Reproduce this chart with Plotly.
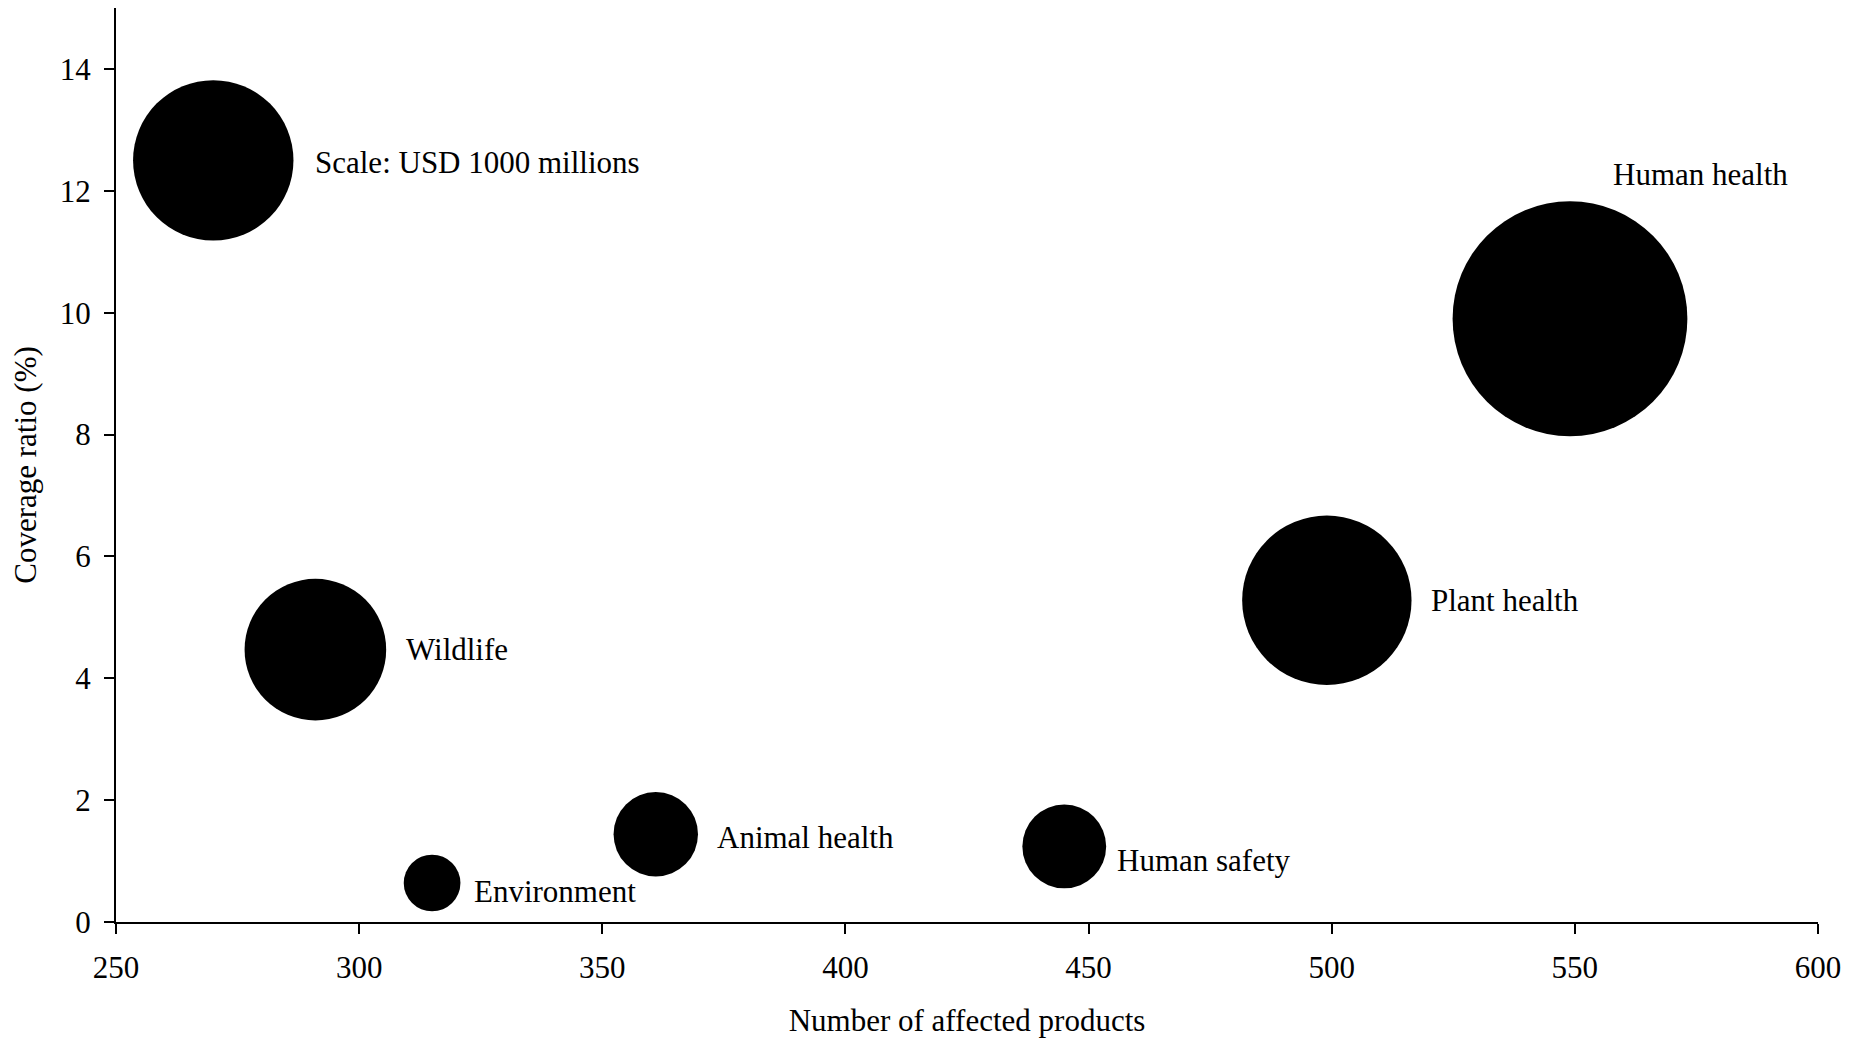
import plotly.graph_objects as go

# ---- data ----
categories = ["Scale: USD 1000 millions", "Human health", "Plant health",
              "Wildlife", "Animal health", "Human safety", "Environment"]
affected_products = [270, 549, 499, 291, 361, 445, 315]
coverage_ratio = [12.5, 9.9, 5.28, 4.47, 1.44, 1.24, 0.64]
trade_value = [1000, 2143, 1115, 779, 277, 273, 125]   # USD millions (bubble area)

x_ticks = [250, 300, 350, 400, 450, 500, 550, 600]
y_ticks = [0, 2, 4, 6, 8, 10, 12, 14]

# ---- style ----
FONT = "Liberation Serif, Times New Roman, serif"
FS = 31
ref_diameter = 160.4                       # pixel diameter of the 1000-million bubble
sizeref = 2.0 * trade_value[0] / ref_diameter ** 2
# label placement: (gap from bubble edge in px, vertical shift in px)
label_gap = [20, None, 17, 18, 17, 9, 12]
label_dy = [-2, 0, 0, 0, -3, -14, -8]
human_health_shift = (41, 144)

fig = go.Figure()
fig.add_trace(go.Scatter(
    x=affected_products, y=coverage_ratio, mode="markers",
    marker=dict(size=trade_value, sizemode="area", sizeref=sizeref,
                color="black", line=dict(width=0), opacity=1),
    text=categories, hoverinfo="text", showlegend=False,
))

for i, name in enumerate(categories):
    if label_gap[i] is None:
        xs, ys = human_health_shift
    else:
        r = (2.0 * trade_value[i] / sizeref) ** 0.5 / 2
        xs, ys = r + label_gap[i], label_dy[i]
    fig.add_annotation(x=affected_products[i], y=coverage_ratio[i], text=name,
                       showarrow=False, xanchor="left", yanchor="middle",
                       xshift=xs, yshift=ys,
                       font=dict(family=FONT, size=FS, color="black"))

axis_common = dict(showline=True, linecolor="black", linewidth=2,
                   ticks="outside", ticklen=10, tickwidth=2, tickcolor="black",
                   showgrid=False, zeroline=False,
                   tickfont=dict(family=FONT, size=FS, color="black"))

fig.update_xaxes(range=[250, 600], tickvals=x_ticks, ticklabelstandoff=7,
                 title=dict(text="Number of affected products", standoff=25,
                            font=dict(family=FONT, size=FS, color="black")),
                 **axis_common)
fig.update_yaxes(range=[0, 15], tickvals=y_ticks, ticklabelstandoff=7,
                 title=dict(text="Coverage ratio (%)", standoff=20,
                            font=dict(family=FONT, size=FS, color="black")),
                 **axis_common)

fig.update_layout(width=1848, height=1032,
                  margin=dict(l=108, r=38, t=0, b=118),
                  plot_bgcolor="white", paper_bgcolor="white",
                  font=dict(family=FONT, size=FS, color="black"))

fig.write_html("out.html")
